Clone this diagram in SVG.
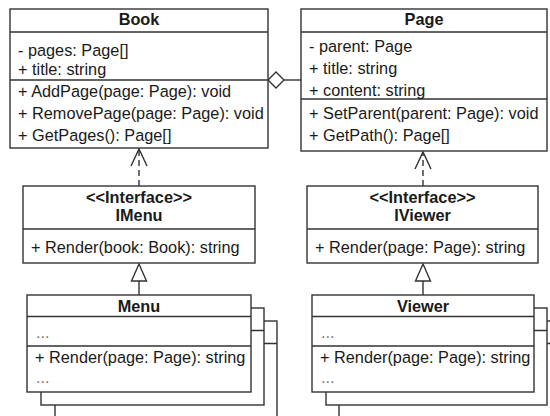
<svg xmlns="http://www.w3.org/2000/svg" width="550" height="416" viewBox="0 0 550 416">
<style>
.box{fill:#fff;stroke:#333;stroke-width:1.4}
.ln{stroke:#333;stroke-width:1.4;fill:none}
.t{font-family:"Liberation Sans",Arial,sans-serif;font-size:16.3px;fill:#1a1a1a}
.b{font-weight:bold;text-anchor:middle}
.dots{fill:#777}
.dash{stroke-dasharray:6 4}
</style>
<rect width="550" height="416" fill="#fff"/>
<g id="connectors">
  <path class="ln" d="M284,80 H301"/>
  <path class="box" d="M268,80 L276,72 L284,80 L276,88 Z"/>
  <path class="ln dash" d="M139,186 V150"/>
  <path class="ln" d="M131,166 L139,149 L147,166"/>
  <path class="ln dash" d="M423,186 V153"/>
  <path class="ln" d="M415,169 L423,152 L431,169"/>
  <path class="ln" d="M139,295 V281"/>
  <path class="box" d="M139,264 L146.5,281 L131.5,281 Z"/>
  <path class="ln" d="M423,295 V281"/>
  <path class="box" d="M423,264 L430.5,281 L415.5,281 Z"/>
</g>
<g id="book">
  <rect class="box" x="10" y="9" width="258" height="139"/>
  <path class="ln" d="M10,32 H268 M10,80 H268"/>
  <text class="t b" x="139" y="25">Book</text>
  <text class="t" x="18" y="56">- pages: Page[]</text>
  <text class="t" x="18" y="75">+ title: string</text>
  <text class="t" x="18" y="97">+ AddPage(page: Page): void</text>
  <text class="t" x="18" y="119">+ RemovePage(page: Page): void</text>
  <text class="t" x="18" y="141">+ GetPages(): Page[]</text>
</g>
<g id="page">
  <rect class="box" x="301" y="9" width="246" height="142"/>
  <path class="ln" d="M301,32 H547 M301,99 H547"/>
  <text class="t b" x="424" y="25">Page</text>
  <text class="t" x="309" y="52">- parent: Page</text>
  <text class="t" x="309" y="74">+ title: string</text>
  <text class="t" x="309" y="95.5">+ content: string</text>
  <text class="t" x="309" y="119">+ SetParent(parent: Page): void</text>
  <text class="t" x="309" y="141">+ GetPath(): Page[]</text>
</g>
<g id="imenu">
  <rect class="box" x="23" y="186" width="232" height="77"/>
  <path class="ln" d="M23,229 H255"/>
  <text class="t b" x="139" y="203">&lt;&lt;Interface&gt;&gt;</text>
  <text class="t b" x="139" y="221">IMenu</text>
  <text class="t" x="31" y="253">+ Render(book: Book): string</text>
</g>
<g id="iviewer">
  <rect class="box" x="307" y="186" width="231" height="77"/>
  <path class="ln" d="M307,229 H538"/>
  <text class="t b" x="422.5" y="203">&lt;&lt;Interface&gt;&gt;</text>
  <text class="t b" x="422.5" y="221">IViewer</text>
  <text class="t" x="315" y="253">+ Render(page: Page): string</text>
</g>
<g id="menu">
  <rect class="box" x="55" y="321" width="222" height="97"/>
  <path class="ln" d="M55,343.5 H277"/>
  <rect class="box" x="41" y="308" width="223" height="97"/>
  <path class="ln" d="M41,330.5 H264"/>
  <rect class="box" x="27" y="295" width="224" height="97"/>
  <path class="ln" d="M27,316.5 H251 M27,346 H251"/>
  <text class="t b" x="139" y="311.5">Menu</text>
  <text class="t dots" x="36" y="338">...</text>
  <text class="t" x="35" y="363">+ Render(page: Page): string</text>
  <text class="t dots" x="36" y="383">...</text>
</g>
<g id="viewer">
  <rect class="box" x="339" y="321" width="222" height="97"/>
  <path class="ln" d="M339,343.5 H561"/>
  <rect class="box" x="326" y="308" width="221" height="97"/>
  <path class="ln" d="M326,330.5 H547"/>
  <rect class="box" x="312" y="295" width="222" height="97"/>
  <path class="ln" d="M312,316.5 H534 M312,346 H534"/>
  <text class="t b" x="423" y="311.5">Viewer</text>
  <text class="t dots" x="321" y="338">...</text>
  <text class="t" x="320" y="363">+ Render(page: Page): string</text>
  <text class="t dots" x="321" y="383">...</text>
</g>
</svg>
